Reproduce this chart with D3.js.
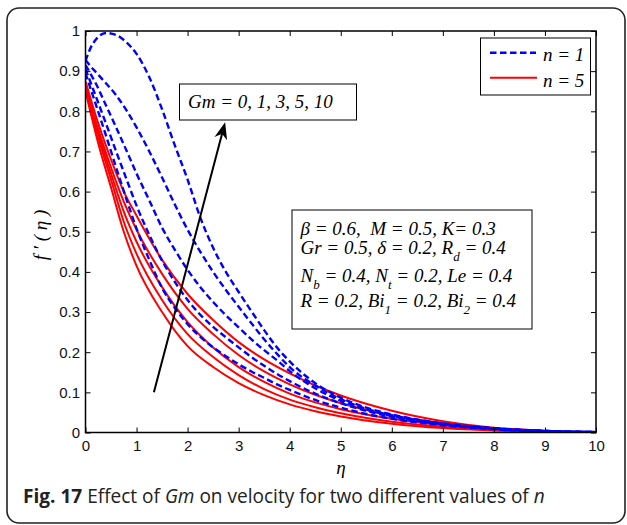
<!DOCTYPE html>
<html><head><meta charset="utf-8">
<script src="https://cdn.jsdelivr.net/npm/d3@7"></script>
<style>body{margin:0;background:#fff}</style>
</head><body>
<svg id="c" width="627" height="525"></svg>
<script>
// ---------- data ----------
const etaBlue = [0,0.1,0.2,0.4,0.6,0.8,1,1.25,1.5,1.75,2,2.25,2.5,2.75,3,3.25,3.5,3.75,4,4.5,5,5.5,6,7,8,9,10];
const blueGm10 = [0.925,0.958,0.978,0.995,0.99,0.972,0.943,0.885,0.805,0.715,0.63,0.535,0.46,0.4,0.35,0.302,0.255,0.212,0.177,0.123,0.087,0.062,0.045,0.023,0.011,0.004,0.001];
const blueGm5  = [0.928,0.912,0.898,0.87,0.84,0.803,0.76,0.7,0.635,0.568,0.505,0.45,0.4,0.355,0.313,0.272,0.232,0.196,0.163,0.117,0.083,0.059,0.043,0.022,0.01,0.004,0.001];
const blueGm3  = [0.915,0.893,0.87,0.815,0.76,0.703,0.645,0.578,0.51,0.455,0.405,0.362,0.325,0.292,0.262,0.232,0.205,0.18,0.153,0.11,0.079,0.057,0.041,0.021,0.01,0.004,0.001];
const blueGm1  = [0.905,0.872,0.838,0.77,0.7,0.632,0.565,0.492,0.428,0.375,0.33,0.293,0.263,0.237,0.212,0.188,0.166,0.146,0.128,0.097,0.073,0.054,0.039,0.02,0.009,0.003,0.001];
const blueGm0  = [0.895,0.856,0.818,0.74,0.66,0.582,0.508,0.43,0.36,0.31,0.27,0.238,0.212,0.19,0.17,0.152,0.136,0.12,0.106,0.081,0.062,0.046,0.034,0.018,0.008,0.003,0.001];

const etaRed = [0,0.25,0.5,0.75,1,1.5,2,2.5,3,3.5,4,4.5,5,6,7,8,9];
const redGm0  = [0.85,0.72,0.61,0.5,0.415,0.3,0.215,0.163,0.123,0.093,0.07,0.053,0.04,0.022,0.011,0.005,0.002];
const redGm1  = [0.855,0.735,0.63,0.525,0.445,0.33,0.245,0.188,0.143,0.108,0.082,0.063,0.048,0.027,0.014,0.006,0.002];
const redGm3  = [0.86,0.745,0.645,0.55,0.475,0.362,0.275,0.212,0.163,0.126,0.097,0.075,0.058,0.034,0.018,0.008,0.003];
const redGm5  = [0.865,0.755,0.66,0.575,0.505,0.395,0.308,0.245,0.193,0.152,0.12,0.094,0.073,0.043,0.023,0.01,0.004];
const redGm10 = [0.875,0.77,0.68,0.6,0.54,0.43,0.345,0.28,0.225,0.182,0.147,0.117,0.092,0.054,0.028,0.012,0.004];

const xTicks = [0,1,2,3,4,5,6,7,8,9,10];
const xTickLabels = ["0","1","2","3","4","5","6","7","8","9","10"];
const yTicks = [0,0.1,0.2,0.3,0.4,0.5,0.6,0.7,0.8,0.9,1];
const yTickLabels = ["0","0.1","0.2","0.3","0.4","0.5","0.6","0.7","0.8","0.9","1"];
const legendLabels = ["n = 1","n = 5"];
const arrowFrom = [1.34,0.1];
const arrowTo = [2.735,0.773];

// ---------- drawing ----------
const svg = d3.select('#c');
const SANS = "'Liberation Sans', Arial, sans-serif";
const SERIF = "'Liberation Serif', 'Times New Roman', serif";

svg.append('rect').attr('x',7).attr('y',8).attr('width',618).attr('height',515)
  .attr('rx',12).attr('fill','none').attr('stroke','#222').attr('stroke-width',1.6);

const x = d3.scaleLinear().domain([0,10]).range([85.5,596]);
const y = d3.scaleLinear().domain([0,1]).range([432.5,31]);

svg.append('clipPath').attr('id','pc').append('rect')
  .attr('x',x(0)).attr('y',y(1)).attr('width',x(10)-x(0)).attr('height',y(0)-y(1));

const plot = svg.append('g').attr('clip-path','url(#pc)');
const mkLine = eta => d3.line().x((d,i)=>x(eta[i])).y(d=>y(d)).curve(d3.curveMonotoneX);

[redGm0,redGm1,redGm3,redGm5,redGm10].forEach(s=>{
  plot.append('path').attr('d',mkLine(etaRed)(s)).attr('fill','none')
    .attr('stroke','#ff0000').attr('stroke-width',2);
});
[blueGm0,blueGm1,blueGm3,blueGm5,blueGm10].forEach(s=>{
  plot.append('path').attr('d',mkLine(etaBlue)(s)).attr('fill','none')
    .attr('stroke','#0000ff').attr('stroke-width',2.4).attr('stroke-dasharray','6.5,3.5');
});

// axes
function styleAxis(g){
  g.select('.domain').remove();
  g.selectAll('.tick line').attr('stroke','#000').attr('stroke-width',1);
  g.selectAll('.tick text').attr('font-family',SANS).attr('font-size',15).attr('fill','#111');
}
svg.append('g').attr('transform',`translate(0,${y(0)})`)
  .call(d3.axisBottom(x).tickValues(xTicks).tickFormat((d,i)=>xTickLabels[i]).tickSize(-5).tickPadding(8))
  .call(styleAxis);
svg.append('g').attr('transform',`translate(${x(0)},0)`)
  .call(d3.axisLeft(y).tickValues(yTicks).tickFormat((d,i)=>yTickLabels[i]).tickSize(-5).tickPadding(5.5))
  .call(styleAxis);
svg.append('g').attr('transform',`translate(0,${y(1)})`)
  .call(d3.axisTop(x).tickValues(xTicks).tickFormat('').tickSize(-5)).call(styleAxis);
svg.append('g').attr('transform',`translate(${x(10)},0)`)
  .call(d3.axisRight(y).tickValues(yTicks).tickFormat('').tickSize(-5)).call(styleAxis);

svg.append('rect').attr('x',x(0)).attr('y',y(1)).attr('width',x(10)-x(0)).attr('height',y(0)-y(1))
  .attr('fill','none').attr('stroke','#000').attr('stroke-width',1.5);

// axis labels
svg.append('text').attr('x',341).attr('y',474).attr('text-anchor','middle')
  .attr('font-family',SERIF).attr('font-style','italic').attr('font-size',19).text('η');
svg.append('text').attr('transform','translate(47,235) rotate(-90)').attr('text-anchor','middle')
  .attr('font-family',SERIF).attr('font-style','italic').attr('font-size',19)
  .style('white-space','pre').text("f ′ ( η )");

// arrow
{
  const x1=x(arrowFrom[0]), y1=y(arrowFrom[1]), x2=x(arrowTo[0]), y2=y(arrowTo[1]);
  const a=Math.atan2(y2-y1,x2-x1), L=17, Wd=6.5, N=12;
  const ux=Math.cos(a), uy=Math.sin(a), px=-uy, py=ux;
  svg.append('line').attr('x1',x1).attr('y1',y1).attr('x2',x2-ux*N).attr('y2',y2-uy*N)
    .attr('stroke','#000').attr('stroke-width',2);
  const pts=[[x2,y2],[x2-ux*L+px*Wd,y2-uy*L+py*Wd],[x2-ux*N,y2-uy*N],[x2-ux*L-px*Wd,y2-uy*L-py*Wd]];
  svg.append('path').attr('d','M'+pts.map(p=>p.join(',')).join('L')+'Z').attr('fill','#000');
}

// Gm box
svg.append('rect').attr('x',179.5).attr('y',84).attr('width',177).attr('height',36)
  .attr('fill','#fff').attr('stroke','#000').attr('stroke-width',1);
svg.append('text').attr('x',188).attr('y',108).attr('font-family',SERIF).attr('font-style','italic')
  .attr('font-size',19).text('Gm = 0, 1, 3, 5, 10');

// legend
svg.append('rect').attr('x',480.5).attr('y',38).attr('width',110).attr('height',57)
  .attr('fill','#fff').attr('stroke','#000').attr('stroke-width',1);
svg.append('line').attr('x1',490).attr('x2',536).attr('y1',52.7).attr('y2',52.7)
  .attr('stroke','#0000ff').attr('stroke-width',2.4).attr('stroke-dasharray','6.5,3.5');
svg.append('line').attr('x1',490).attr('x2',537).attr('y1',77.7).attr('y2',77.7)
  .attr('stroke','#ff0000').attr('stroke-width',2);
legendLabels.forEach((t,i)=>{
  svg.append('text').attr('x',543).attr('y',60.5+i*26).attr('font-family',SERIF).attr('font-style','italic')
    .attr('font-size',19).text(t);
});

// parameter box
svg.append('rect').attr('x',292).attr('y',210).attr('width',240).attr('height',119)
  .attr('fill','#fff').attr('stroke','#000').attr('stroke-width',1);
const pLines = [
  {y:235, parts:[['β = 0.6,  M = 0.5, K= 0.3']]},
  {y:253.5, parts:[['Gr = 0.5, δ = 0.2, R'],['d',1],[' = 0.4']]},
  {y:281.5, parts:[['N'],['b',1],[' = 0.4, N'],['t',1],[' = 0.2, Le = 0.4']]},
  {y:306.5, parts:[['R = 0.2, Bi'],['1',1],[' = 0.2, Bi'],['2',1],[' = 0.4']]}
];
pLines.forEach(l=>{
  const t=svg.append('text').attr('x',300.5).attr('y',l.y).attr('font-family',SERIF)
    .attr('font-style','italic').attr('font-size',19).style('white-space','pre');
  let sub=false;
  l.parts.forEach(p=>{
    const ts=t.append('tspan').text(p[0]);
    if(p[1]){ ts.attr('dy',7.5).attr('font-size',13); sub=true; }
    else if(sub){ ts.attr('dy',-7.5); sub=false; }
  });
});

// caption
const cap = svg.append('text').attr('x',23).attr('y',503).attr('font-family',"'Open Sans', sans-serif")
  .attr('font-size',20).attr('fill','#222').style('white-space','pre');
cap.append('tspan').attr('font-weight','bold').text('Fig. 17');
cap.append('tspan').text(' Effect of ');
cap.append('tspan').attr('font-style','italic').text('Gm');
cap.append('tspan').text(' on velocity for two different values of ');
cap.append('tspan').attr('font-style','italic').text('n');
const cw = cap.node().getComputedTextLength();
cap.attr('font-size', 20*522/cw);
</script>
</body></html>
